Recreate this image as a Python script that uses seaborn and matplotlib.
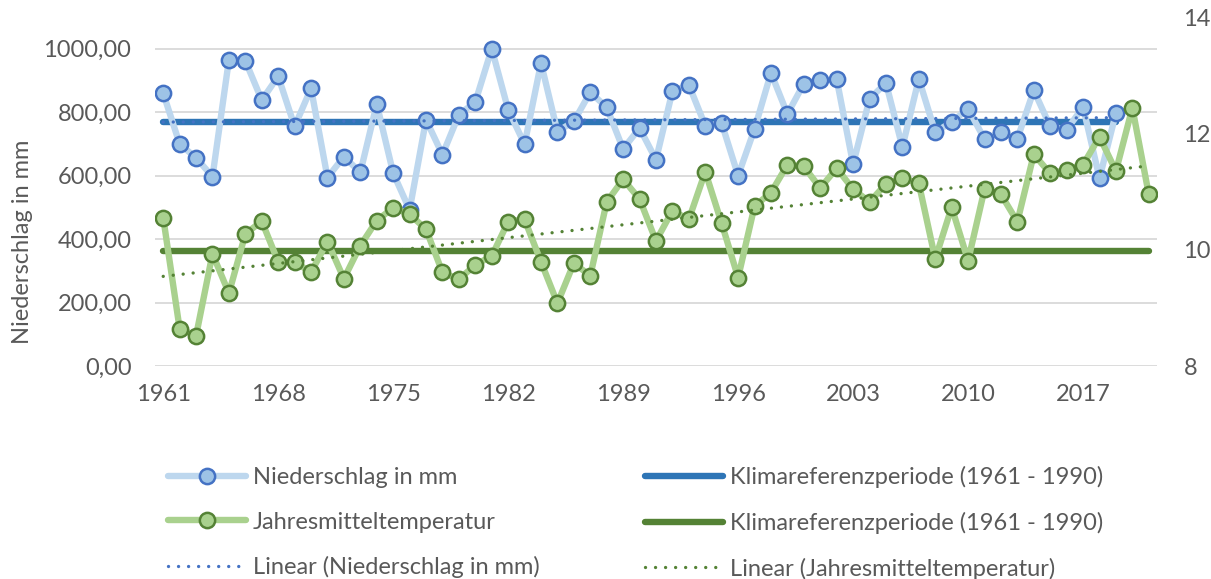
import numpy as np
import pandas as pd
import seaborn as sns
import matplotlib
matplotlib.use("Agg")
import matplotlib.pyplot as plt
from matplotlib.ticker import FuncFormatter

# Jahresniederschlag (mm), 1961-2019
precip_years = list(range(1961, 2020))
precip = [860, 700, 656, 597, 965, 962, 838, 913, 755, 875,
          594, 660, 610, 826, 608, 492, 776, 666, 792, 832,
          1000, 808, 699, 955, 739, 771, 863, 815, 684, 750,
          650, 866, 886, 757, 765, 600, 747, 924, 794, 890,
          900, 904, 636, 842, 892, 690, 905, 737, 769, 811,
          715, 737, 716, 869, 755, 745, 816, 592, 797]

# Jahresmitteltemperatur (°C), 1961-2021
temp_years = list(range(1961, 2022))
temp = [10.55, 8.64, 8.52, 9.93, 9.25, 10.27, 10.49, 9.79, 9.79, 9.61,
        10.14, 9.50, 10.07, 10.50, 10.72, 10.61, 10.35, 9.61, 9.49, 9.74,
        9.89, 10.48, 10.52, 9.79, 9.08, 9.77, 9.55, 10.82, 11.21, 10.87,
        10.15, 10.67, 10.52, 11.34, 10.45, 9.52, 10.75, 10.98, 11.46, 11.43,
        11.06, 11.40, 11.04, 10.82, 11.13, 11.23, 11.14, 9.84, 10.73, 9.81,
        11.04, 10.95, 10.48, 11.64, 11.31, 11.37, 11.46, 11.94, 11.35, 12.44,
        10.95]

# Mittelwerte der Klimareferenzperiode 1961-1990
ref_precip = 769
ref_temp = 9.98

label_years = list(range(1961, 2018, 7))

lbl_p = "Niederschlag in mm"
lbl_t = "Jahresmitteltemperatur"
lbl_ref = "Klimareferenzperiode (1961 - 1990)"
lbl_lin_p = "Linear (Niederschlag in mm)"
lbl_lin_t = "Linear (Jahresmitteltemperatur)"

sns.set_theme(style="white")
plt.rcParams["font.family"] = ["Lato", "DejaVu Sans"]
text_color = "#595959"
fs = 17

fig = plt.figure(figsize=(12.11, 5.79), dpi=100)
ax = fig.add_axes([155 / 1211, 1 - 366 / 579, (1157 - 155) / 1211, (366 - 17) / 579])
ax2 = ax.twinx()

# linear trends
py = np.array(precip_years, dtype=float)
ty = np.array(temp_years, dtype=float)
cp = np.polyfit(py, precip, 1)
ct = np.polyfit(ty, temp, 1)
trend_p = np.polyval(cp, py)
trend_t = np.polyval(ct, ty)

df_p = pd.DataFrame({"Jahr": precip_years, "Wert": precip})
df_t = pd.DataFrame({"Jahr": temp_years, "Wert": temp})

# precipitation (left axis)
sns.lineplot(data=df_p, x="Jahr", y="Wert", ax=ax, color="#BDD7EE", lw=4.6,
             marker="o", markersize=11, markerfacecolor="#9DC3E6",
             markeredgecolor="#4472C4", markeredgewidth=1.8, zorder=3,
             label=lbl_p, legend=False)
sns.lineplot(x=[precip_years[0], precip_years[-1]], y=[ref_precip, ref_precip], ax=ax,
             color="#2E75B6", lw=4.6, solid_capstyle="round", zorder=2,
             label=lbl_ref, legend=False)
sns.lineplot(x=py, y=trend_p, ax=ax, color="#4472C4", lw=2.4,
             linestyle=(0, (0.01, 3.0)), dash_capstyle="round", zorder=4,
             label=lbl_lin_p, legend=False)

# temperature (right axis)
sns.lineplot(x=[temp_years[0], temp_years[-1]], y=[ref_temp, ref_temp], ax=ax2,
             color="#548235", lw=4.6, solid_capstyle="round", zorder=2,
             label=lbl_ref, legend=False)
sns.lineplot(data=df_t, x="Jahr", y="Wert", ax=ax2, color="#A9D18E", lw=4.6,
             marker="o", markersize=11, markerfacecolor="#A9D18E",
             markeredgecolor="#548235", markeredgewidth=1.8, zorder=3,
             label=lbl_t, legend=False)
sns.lineplot(x=ty, y=trend_t, ax=ax2, color="#548235", lw=2.4,
             linestyle=(0, (0.01, 3.0)), dash_capstyle="round", zorder=4,
             label=lbl_lin_t, legend=False)

# axes
ax.set_xlim(1960.5, 2021.5)
ax.set_ylim(0, 1100)
ax2.set_ylim(8, 14)
ax.set_xticks(label_years)
ax.set_yticks(range(0, 1001, 200))
ax2.set_yticks([8, 10, 12, 14])
ax.yaxis.set_major_formatter(FuncFormatter(lambda v, p: f"{v:.2f}".replace(".", ",")))
ax.grid(axis="y", color="#D9D9D9", lw=1.3)
ax.grid(axis="x", visible=False)
ax2.grid(False)
for a in (ax, ax2):
    for s in a.spines.values():
        s.set_visible(False)
    a.tick_params(length=0, labelsize=fs, colors=text_color)
ax.tick_params(axis="y", pad=17)
ax.tick_params(axis="x", pad=13)
ax2.tick_params(axis="y", pad=19)
ax.set_xlabel("")
ax2.set_ylabel("")
ax.set_ylabel("Niederschlag in mm", fontsize=fs, color=text_color)
ax.yaxis.set_label_coords(-0.122, 0.355)

# legend in two columns
h1, l1 = ax.get_legend_handles_labels()
h2, l2 = ax2.get_legend_handles_labels()
hd = dict(zip(["p", "refp", "linp"], h1))
hd.update(dict(zip(["reft", "t", "lint"], h2)))
order = ["p", "t", "linp", "refp", "reft", "lint"]
labels = {"p": lbl_p, "t": lbl_t, "linp": lbl_lin_p,
          "refp": lbl_ref, "reft": lbl_ref, "lint": lbl_lin_t}
leg = fig.legend([hd[k] for k in order], [labels[k] for k in order],
                 ncol=2, loc="upper left", bbox_to_anchor=(168 / 1211, 1 - 466 / 579),
                 frameon=False, fontsize=fs, handlelength=3.3, handletextpad=0.3,
                 columnspacing=4.45, labelspacing=1.0, borderpad=0, borderaxespad=0)
for t in leg.get_texts():
    t.set_color(text_color)

fig.savefig("out.png", dpi=100)
